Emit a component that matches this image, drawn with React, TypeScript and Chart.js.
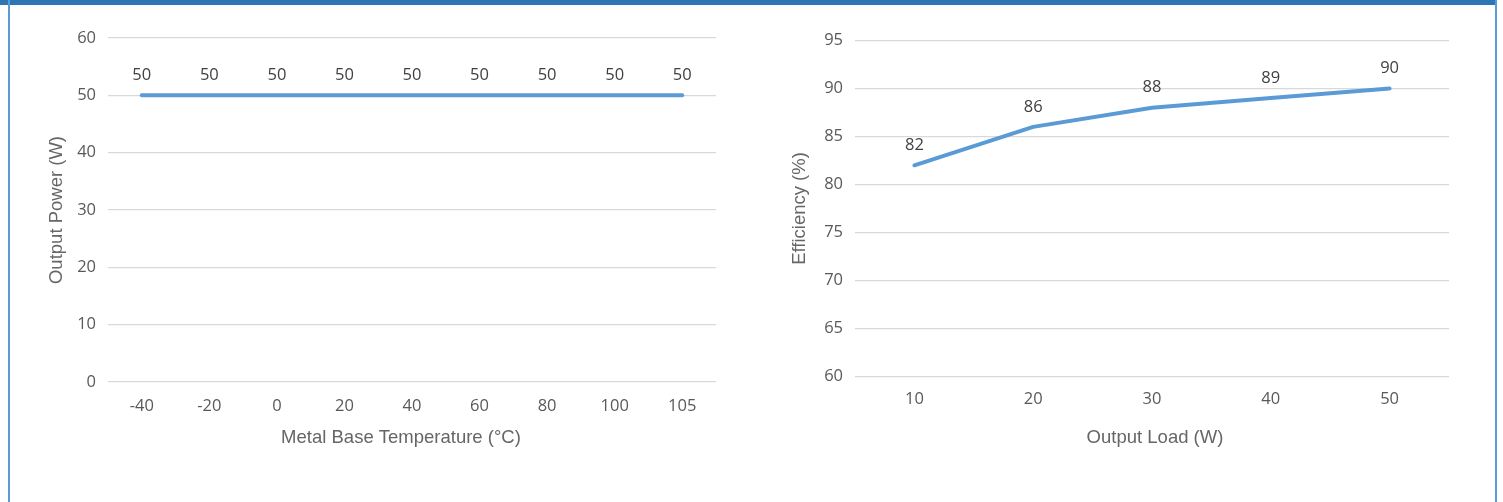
import React, { useEffect, useRef } from "react";
import { Chart, registerables } from "chart.js";

Chart.register(...registerables);

const tempCategories = ["-40", "-20", "0", "20", "40", "60", "80", "100", "105"];
const powerValues = [50, 50, 50, 50, 50, 50, 50, 50, 50];
const powerTicks = { min: 0, max: 60, step: 10 };

const loadCategories = ["10", "20", "30", "40", "50"];
const efficiencyValues = [82, 86, 88, 89, 90];
const efficiencyTicks = { min: 60, max: 95, step: 5 };

const LINE_COLOR = "#5B9BD5";
const TICK_COLOR = "#595959";
const LABEL_COLOR = "#404040";
const TITLE_COLOR = "#666666";
const GRID_COLOR = "#D9D9D9";
const TICK_FONT = { family: "'Open Sans', sans-serif", size: 16.5 };
const TITLE_FONT = { family: "'Liberation Sans', Arial, sans-serif", size: 18.5 };

const dataLabelPlugin = {
  id: "dataLabels",
  afterDatasetsDraw(chart: any) {
    const ctx = chart.ctx;
    ctx.save();
    ctx.font = `${TICK_FONT.size}px ${TICK_FONT.family}`;
    ctx.fillStyle = LABEL_COLOR;
    ctx.textAlign = "center";
    ctx.textBaseline = "middle";
    chart.data.datasets.forEach((ds: any, i: number) => {
      const meta = chart.getDatasetMeta(i);
      meta.data.forEach((pt: any, j: number) => {
        ctx.fillText(String(ds.data[j]), pt.x, pt.y - 20);
      });
    });
    ctx.restore();
  },
};

// draws the horizontal axis title below the x scale, with a small horizontal shift
const xTitlePlugin = {
  id: "xTitle",
  afterDraw(chart: any, _args: any, opts: any) {
    const ctx = chart.ctx;
    const xs = chart.scales.x;
    ctx.save();
    ctx.font = `${TITLE_FONT.size}px ${TITLE_FONT.family}`;
    ctx.fillStyle = TITLE_COLOR;
    ctx.textAlign = "center";
    ctx.textBaseline = "middle";
    ctx.fillText(opts.text, (xs.left + xs.right) / 2 + opts.shift, xs.bottom - opts.fromBottom);
    ctx.restore();
  },
};

type Cfg = {
  labels: string[];
  values: number[];
  ticks: { min: number; max: number; step: number };
  xTitle: string;
  yTitle: string;
  padTop: number;
  padRight: number;
  yWidth: number;
  xHeight: number;
  yTitlePad: number;
  xTickPad: number;
  xTitleFromBottom: number;
  xTitleShift: number;
};

function LineChart(props: { cfg: Cfg; left: number; top: number }) {
  const ref = useRef<HTMLCanvasElement | null>(null);
  const { cfg } = props;
  useEffect(() => {
    if (!ref.current) return;
    const chart = new Chart(ref.current, {
      type: "line",
      data: {
        labels: cfg.labels,
        datasets: [
          {
            data: cfg.values,
            borderColor: LINE_COLOR,
            borderWidth: 4,
            borderCapStyle: "round",
            borderJoinStyle: "round",
            pointRadius: 0,
            pointHoverRadius: 0,
            tension: 0,
            fill: false,
          },
        ],
      },
      options: {
        responsive: false,
        animation: false,
        devicePixelRatio: 1,
        layout: { padding: { top: cfg.padTop, right: cfg.padRight, left: 0, bottom: 0 } },
        plugins: {
          legend: { display: false },
          tooltip: { enabled: false },
          xTitle: { text: cfg.xTitle, shift: cfg.xTitleShift, fromBottom: cfg.xTitleFromBottom },
        },
        scales: {
          x: {
            type: "category",
            offset: true,
            grid: { display: false, drawTicks: false },
            border: { display: false },
            ticks: { color: TICK_COLOR, font: TICK_FONT, padding: cfg.xTickPad, maxRotation: 0, autoSkip: false },
            afterFit: (s: any) => {
              s.height = cfg.xHeight;
            },
          },
          y: {
            min: cfg.ticks.min,
            max: cfg.ticks.max,
            grid: { color: GRID_COLOR, lineWidth: 1.3, drawTicks: false },
            border: { display: false },
            ticks: { stepSize: cfg.ticks.step, color: TICK_COLOR, font: TICK_FONT, padding: 12 },
            title: {
              display: true,
              text: cfg.yTitle,
              color: TITLE_COLOR,
              font: TITLE_FONT,
              padding: { top: cfg.yTitlePad, bottom: 0 },
            },
            afterFit: (s: any) => {
              s.width = cfg.yWidth;
            },
          },
        },
      },
      plugins: [dataLabelPlugin, xTitlePlugin],
    } as any);
    return () => chart.destroy();
  }, []);
  return (
    <canvas
      ref={ref}
      width={720}
      height={470}
      style={{ position: "absolute", left: props.left, top: props.top, width: 720, height: 470 }}
    />
  );
}

const leftCfg: Cfg = {
  labels: tempCategories,
  values: powerValues,
  ticks: powerTicks,
  xTitle: "Metal Base Temperature (°C)",
  yTitle: "Output Power (W)",
  padTop: 28,
  padRight: 24,
  yWidth: 88,
  xHeight: 98,
  yTitlePad: 25.9,
  xTickPad: 14,
  xTitleFromBottom: 42,
  xTitleShift: -11,
};

const rightCfg: Cfg = {
  labels: loadCategories,
  values: efficiencyValues,
  ticks: efficiencyTicks,
  xTitle: "Output Load (W)",
  yTitle: "Efficiency (%)",
  padTop: 30.5,
  padRight: 31,
  yWidth: 95,
  xHeight: 103.5,
  yTitlePad: 28.9,
  xTickPad: 12.5,
  xTitleFromBottom: 42,
  xTitleShift: 3,
};

export default function App() {
  return (
    <div
      style={{
        position: "fixed",
        left: 0,
        top: 0,
        width: 1503,
        height: 502,
        background: "#ffffff",
        overflow: "hidden",
      }}
    >
      <div style={{ position: "absolute", left: 0, top: 0, width: 1497, height: 5, background: "#2E75B6" }} />
      <div style={{ position: "absolute", left: 8, top: 0, width: 2, height: 502, background: "#5B9BD5" }} />
      <div style={{ position: "absolute", left: 1495, top: 0, width: 2, height: 502, background: "#5B9BD5" }} />
      <LineChart cfg={leftCfg} left={20} top={10} />
      <LineChart cfg={rightCfg} left={760} top={10} />
    </div>
  );
}
